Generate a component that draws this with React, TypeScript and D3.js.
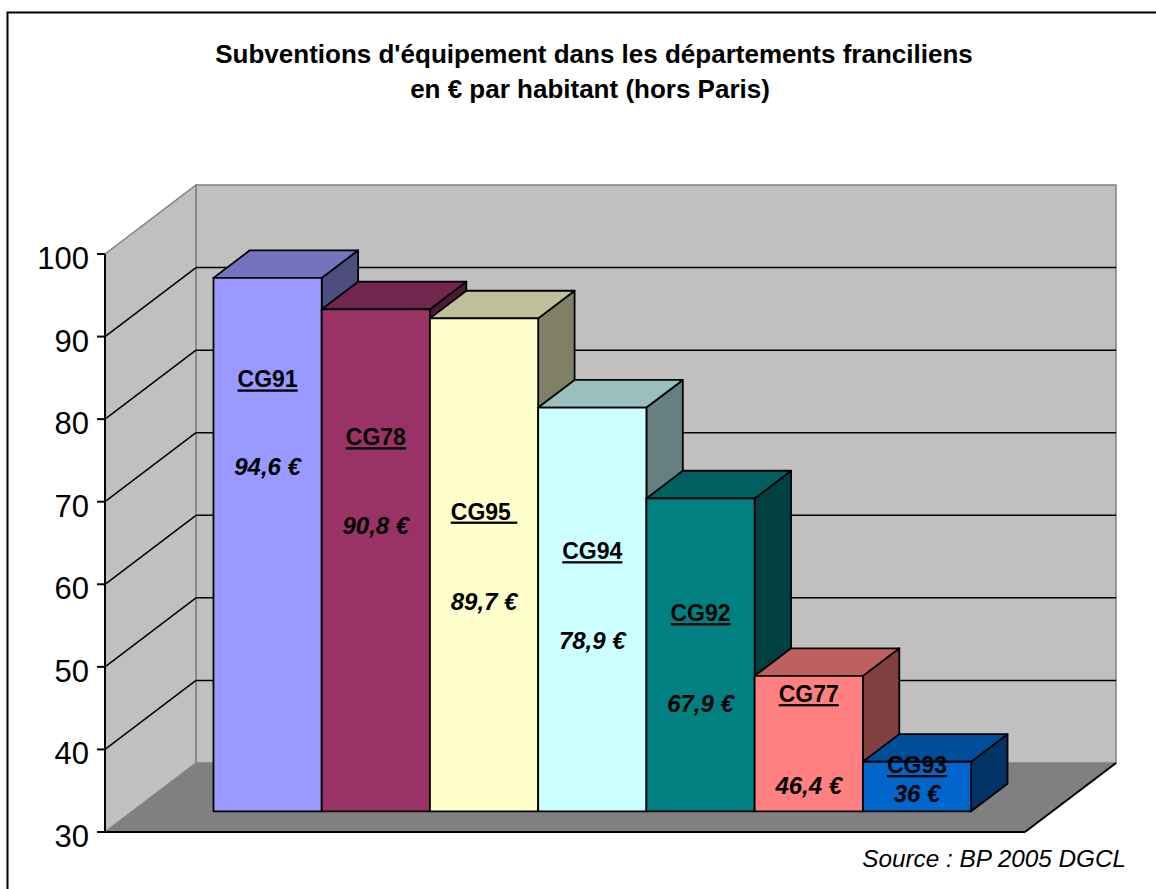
import React from 'react';
import * as d3 from 'd3';

const categories = ['CG91', 'CG78', 'CG95', 'CG94', 'CG92', 'CG77', 'CG93'];
const values = [94.6, 90.8, 89.7, 78.9, 67.9, 46.4, 36];
const barColors = ['#9999FF', '#993366', '#FFFFCC', '#CCFFFF', '#008080', '#FF8080', '#0066CC'];
// where the two labels of each bar sit, in axis units
const nameAt = [82.3, 75.3, 66.3, 61.5, 54.0, 44.2, 35.6];
const valueAt = [71.7, 64.5, 55.3, 50.6, 43.0, 33.1, 32.1];
const ticks = [30, 40, 50, 60, 70, 80, 90, 100];

const W = 1156;
const H = 889;
const DX = 91;
const DY = -69;
const F1 = 0.3; // front of the bars, as a share of the depth
const F2 = 0.7;

const FONT = '"Liberation Sans", Arial, sans-serif';

const App: React.FC = () => {
  const y = d3.scaleLinear().domain([30, 100]).range([832, 254]);
  const x = d3.scaleBand<string>().domain(categories).range([105, 1025]).paddingInner(0).paddingOuter(0.75);
  const bw = x.bandwidth();
  const left = 105;
  const right = 1025;
  const y0 = y(30);
  const yTop = y(100);

  const pts = (p: [number, number][]) => p.map(d => d.join(',')).join(' ');
  const shade = (c: string, k: number) => {
    const col = d3.rgb(c);
    return d3.rgb(col.r * k, col.g * k, col.b * k).formatHex();
  };
  const fmt = (v: number) => String(v).replace('.', ',') + ' €';

  return (
    <svg width={W} height={H} style={{ position: 'absolute', left: 0, top: 0, background: '#fff' }}>
      <rect x={7.5} y={12.5} width={W + 20} height={H + 20} fill="#fff" stroke="#000" strokeWidth={2} />

      <text fontFamily={FONT} fontWeight="bold" fontSize={26} textAnchor="middle">
        <tspan x={594} y={63}>Subventions d'équipement dans les départements franciliens</tspan>
        <tspan x={590} y={98}>en € par habitant (hors Paris)</tspan>
      </text>

      {/* walls */}
      <rect x={left + DX} y={yTop + DY} width={right - left} height={y0 - yTop} fill="#C0C0C0" stroke="#808080" strokeWidth={1.5} />
      <polygon
        points={pts([[left, yTop], [left + DX, yTop + DY], [left + DX, y0 + DY], [left, y0]])}
        fill="#C0C0C0" stroke="#808080" strokeWidth={1.5}
      />
      <polygon
        points={pts([[left, y0], [right, y0], [right + DX, y0 + DY], [left + DX, y0 + DY]])}
        fill="#808080"
      />
      <line x1={left} y1={y0} x2={right} y2={y0} stroke="#000" strokeWidth={2} />
      <line x1={right} y1={y0} x2={right + DX} y2={y0 + DY} stroke="#000" strokeWidth={2} />

      {ticks.filter(t => t > 30 && t < 100).map(t => (
        <g key={t}>
          <line x1={left} y1={y(t)} x2={left + DX} y2={y(t) + DY} stroke="#000" strokeWidth={1.5} />
          <line x1={left + DX} y1={y(t) + DY} x2={right + DX} y2={y(t) + DY} stroke="#000" strokeWidth={1.5} />
        </g>
      ))}

      {/* value axis */}
      <line x1={left} y1={yTop} x2={left} y2={y0} stroke="#000" strokeWidth={2} />
      {ticks.map(t => (
        <g key={t}>
          <line x1={left - 8} y1={y(t)} x2={left} y2={y(t)} stroke="#000" strokeWidth={2} />
          <text x={left - 16} y={y(t) + 15} textAnchor="end" fontFamily={FONT} fontSize={31}>{t}</text>
        </g>
      ))}

      {/* bars */}
      {categories.map((c, i) => {
        const x0 = (x(c) as number) + F1 * DX;
        const x1 = x0 + bw;
        const top = y(values[i]) + F1 * DY;
        const bot = y0 + F1 * DY;
        const ddx = (F2 - F1) * DX;
        const ddy = (F2 - F1) * DY;
        const col = barColors[i];
        return (
          <g key={c} stroke="#000" strokeWidth={1.8} strokeLinejoin="round">
            <polygon points={pts([[x1, top], [x1 + ddx, top + ddy], [x1 + ddx, bot + ddy], [x1, bot]])} fill={shade(col, 0.5)} />
            <polygon points={pts([[x0, top], [x1, top], [x1 + ddx, top + ddy], [x0 + ddx, top + ddy]])} fill={shade(col, 0.75)} />
            <rect x={x0} y={top} width={bw} height={bot - top} fill={col} />
          </g>
        );
      })}

      {categories.map((c, i) => {
        const cx = (x(c) as number) + F1 * DX + bw / 2;
        return (
          <g key={c} fontFamily={FONT} fontWeight="bold" textAnchor="middle" fill="#000">
            <text x={cx} y={y(nameAt[i]) + F1 * DY + 8} fontSize={23} textDecoration="underline" style={{ whiteSpace: 'pre' }}>
              {c === 'CG95' ? c + ' ' : c}
            </text>
            <text x={cx} y={y(valueAt[i]) + F1 * DY + 8} fontSize={24} fontStyle="italic">{fmt(values[i])}</text>
          </g>
        );
      })}

      <text x={1126} y={867} textAnchor="end" fontFamily={FONT} fontStyle="italic" fontSize={24.3}>Source : BP 2005 DGCL</text>
    </svg>
  );
};

export default App;
